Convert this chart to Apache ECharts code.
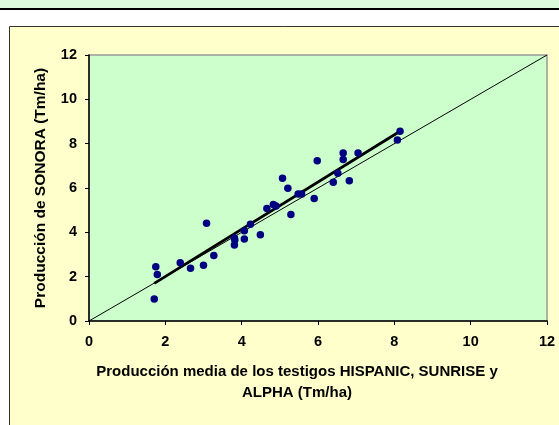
<!DOCTYPE html>
<html>
<head>
<meta charset="utf-8">
<script src="https://cdn.jsdelivr.net/npm/echarts@6/dist/echarts.min.js"></script>
<style>
html,body{margin:0;padding:0;background:#fff;}
#c{width:559px;height:425px;}
</style>
</head>
<body>
<div id="c"></div>
<script>
// Production of control varieties (x) vs SONORA (y), Tm/ha
const testigos = [1.71,1.75,1.79,2.39,2.66,3.00,3.08,3.27,3.81,3.81,3.82,4.07,4.07,4.23,4.49,4.66,4.83,4.90,5.07,5.21,5.29,5.48,5.57,5.90,5.98,6.40,6.52,6.66,6.66,6.82,7.05,8.08,8.15];
const sonora   = [0.99,2.45,2.10,2.63,2.38,2.51,4.41,2.96,3.43,3.74,3.65,3.70,4.07,4.36,3.89,5.07,5.26,5.19,6.44,5.99,4.81,5.73,5.73,5.53,7.23,6.26,6.66,7.58,7.29,6.33,7.58,8.16,8.56];
const regresionX = [1.71, 8.15];
const regresionY = [1.70, 8.56];
const diagonal   = [0, 12];
const ticks = [0, 2, 4, 6, 8, 10, 12];

const chart = echarts.init(document.getElementById('c'));
const font = 'Liberation Sans, Arial, sans-serif';
chart.setOption({
  animation: false,
  backgroundColor: '#ffffff',
  graphic: [
    {type:'rect', shape:{x:0,y:0,width:559,height:8}, style:{fill:'#dcfadc'}, z:-10},
    {type:'rect', shape:{x:0,y:8,width:559,height:2}, style:{fill:'#000'}, z:-10},
    {type:'rect', shape:{x:9.5,y:26.5,width:560,height:410}, style:{fill:'#ffffcc', stroke:'#333', lineWidth:1}, z:-10}
  ],
  grid: {left: 89, right: 12, top: 55, bottom: 104, show: true, backgroundColor: '#ccffcc', borderColor: '#999999', borderWidth: 1.5},
  xAxis: {
    type: 'value', min: ticks[0], max: ticks[ticks.length-1], interval: 2,
    name: 'Producción media de los testigos HISPANIC, SUNRISE y\nALPHA (Tm/ha)',
    nameLocation: 'middle', nameGap: 40,
    nameTextStyle: {fontFamily: font, fontWeight: 'bold', fontSize: 15, color: '#000', lineHeight: 21, verticalAlign: 'top', padding: [0, 42, 0, 0]},
    axisLine: {show: true, onZero: false, lineStyle: {color: '#000', width: 1.5}},
    axisTick: {show: true, inside: false, length: 4, lineStyle: {color: '#000'}},
    axisLabel: {fontFamily: font, fontWeight: 'bold', fontSize: 14.5, color: '#000', margin: 13},
    splitLine: {show: false}
  },
  yAxis: {
    type: 'value', min: ticks[0], max: ticks[ticks.length-1], interval: 2,
    name: 'Producción de SONORA (Tm/ha)',
    nameLocation: 'middle', nameGap: 40,
    nameTextStyle: {fontFamily: font, fontWeight: 'bold', fontSize: 15.5, color: '#000'},
    axisLine: {show: true, onZero: false, lineStyle: {color: '#000', width: 1.5}},
    axisTick: {show: true, inside: false, length: 4, lineStyle: {color: '#000'}},
    axisLabel: {fontFamily: font, fontWeight: 'bold', fontSize: 14.5, color: '#000', margin: 12},
    splitLine: {show: false}
  },
  series: [
    {
      type: 'line', data: diagonal.map(v => [v, v]), symbol: 'none',
      lineStyle: {color: '#000', width: 1}, z: 2, silent: true
    },
    {
      type: 'line', data: regresionX.map((v, i) => [v, regresionY[i]]), symbol: 'none',
      lineStyle: {color: '#000', width: 2.8}, z: 3, silent: true
    },
    {
      type: 'scatter', data: testigos.map((v, i) => [v, sonora[i]]),
      symbol: 'circle', symbolSize: 7.5,
      itemStyle: {color: '#000080', opacity: 1}, z: 4
    }
  ]
});
</script>
</body>
</html>
